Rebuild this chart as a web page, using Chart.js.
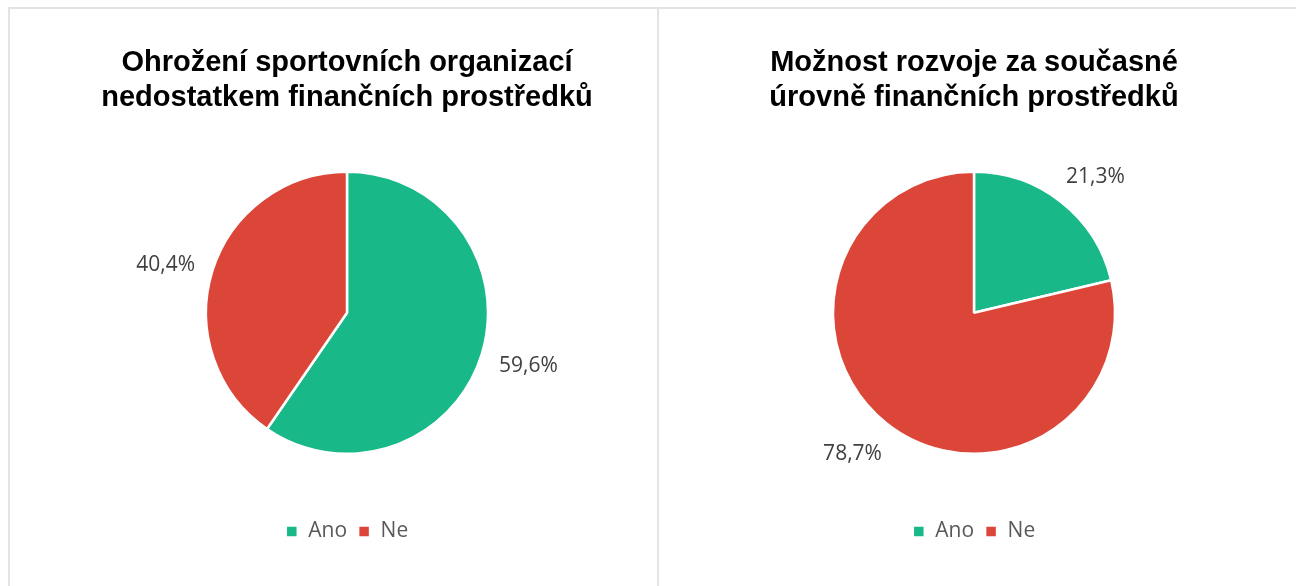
<!DOCTYPE html>
<html>
<head>
<meta charset="utf-8">
<script src="https://cdn.jsdelivr.net/npm/chart.js@4.4.0/dist/chart.umd.min.js"></script>
<style>
  html, body { margin: 0; padding: 0; background: #fff; }
  body { width: 1296px; height: 586px; position: relative; overflow: hidden; }
  .panel { position: absolute; top: 7px; height: 700px; border: 2px solid #e3e3e3; box-sizing: border-box; }
  .box { position: absolute; top: 0; width: 600px; height: 586px; }
</style>
</head>
<body>
<div class="panel" style="left:8px; width:651px;"></div>
<div class="panel" style="left:657px; width:700px;"></div>
<div class="box" style="left:47px;"><canvas id="chartLeft"></canvas></div>
<div class="box" style="left:674px;"><canvas id="chartRight"></canvas></div>
<script>
// kategorie a hodnoty (%)
var categories = ['Ano', 'Ne'];
var ohrozeniValues = [59.6, 40.4];
var rozvojValues = [21.3, 78.7];
var titleLeft = ['Ohrožení sportovních organizací', 'nedostatkem finančních prostředků'];
var titleRight = ['Možnost rozvoje za současné', 'úrovně finančních prostředků'];
var colors = ['#18B888', '#DC4639'];

// popisky procent vně výsečí
var outsideLabels = {
  id: 'outsideLabels',
  afterDatasetsDraw: function(chart) {
    var ctx = chart.ctx;
    var meta = chart.getDatasetMeta(0);
    var values = chart.data.datasets[0].data;
    ctx.save();
    ctx.font = '21px "Open Sans"';
    ctx.fillStyle = '#404040';
    ctx.textAlign = 'center';
    ctx.textBaseline = 'middle';
    meta.data.forEach(function(arc, i) {
      var p = arc.getProps(['x', 'y', 'startAngle', 'endAngle', 'outerRadius'], true);
      var mid = (p.startAngle + p.endAngle) / 2;
      var dx = Math.cos(mid), dy = Math.sin(mid);
      var text = values[i].toFixed(1).replace('.', ',') + '%';
      var w = ctx.measureText(text).width;
      var r = p.outerRadius + 16 + Math.abs(dy) * 12;
      var x = p.x + dx * r + dx * w / 2;
      var y = p.y + dy * r + dy * 10 + 3;
      ctx.fillText(text, x, y);
    });
    ctx.restore();
  }
};

function makePie(id, title, values) {
  var ctx = document.getElementById(id);
  return new Chart(ctx, {
    type: 'pie',
    data: {
      labels: categories,
      datasets: [{
        data: values,
        backgroundColor: colors,
        borderColor: '#ffffff',
        borderWidth: 2.5,
        radius: 141
      }]
    },
    options: {
      responsive: true,
      maintainAspectRatio: false,
      animation: false,
      layout: { padding: { bottom: 34 } },
      plugins: {
        title: {
          display: true,
          text: title,
          color: '#000000',
          font: { family: '"Liberation Sans", Arial, sans-serif', size: 29, weight: 'bold', lineHeight: 1.2 },
          padding: { top: 46, bottom: 0 }
        },
        legend: {
          position: 'bottom',
          labels: {
            boxWidth: 12,
            boxHeight: 12,
            padding: 11,
            color: '#595959',
            font: { family: '"Open Sans"', size: 21 }
          }
        },
        tooltip: { enabled: false }
      }
    },
    plugins: [outsideLabels]
  });
}

makePie('chartLeft', titleLeft, ohrozeniValues);
makePie('chartRight', titleRight, rozvojValues);
</script>
</body>
</html>
